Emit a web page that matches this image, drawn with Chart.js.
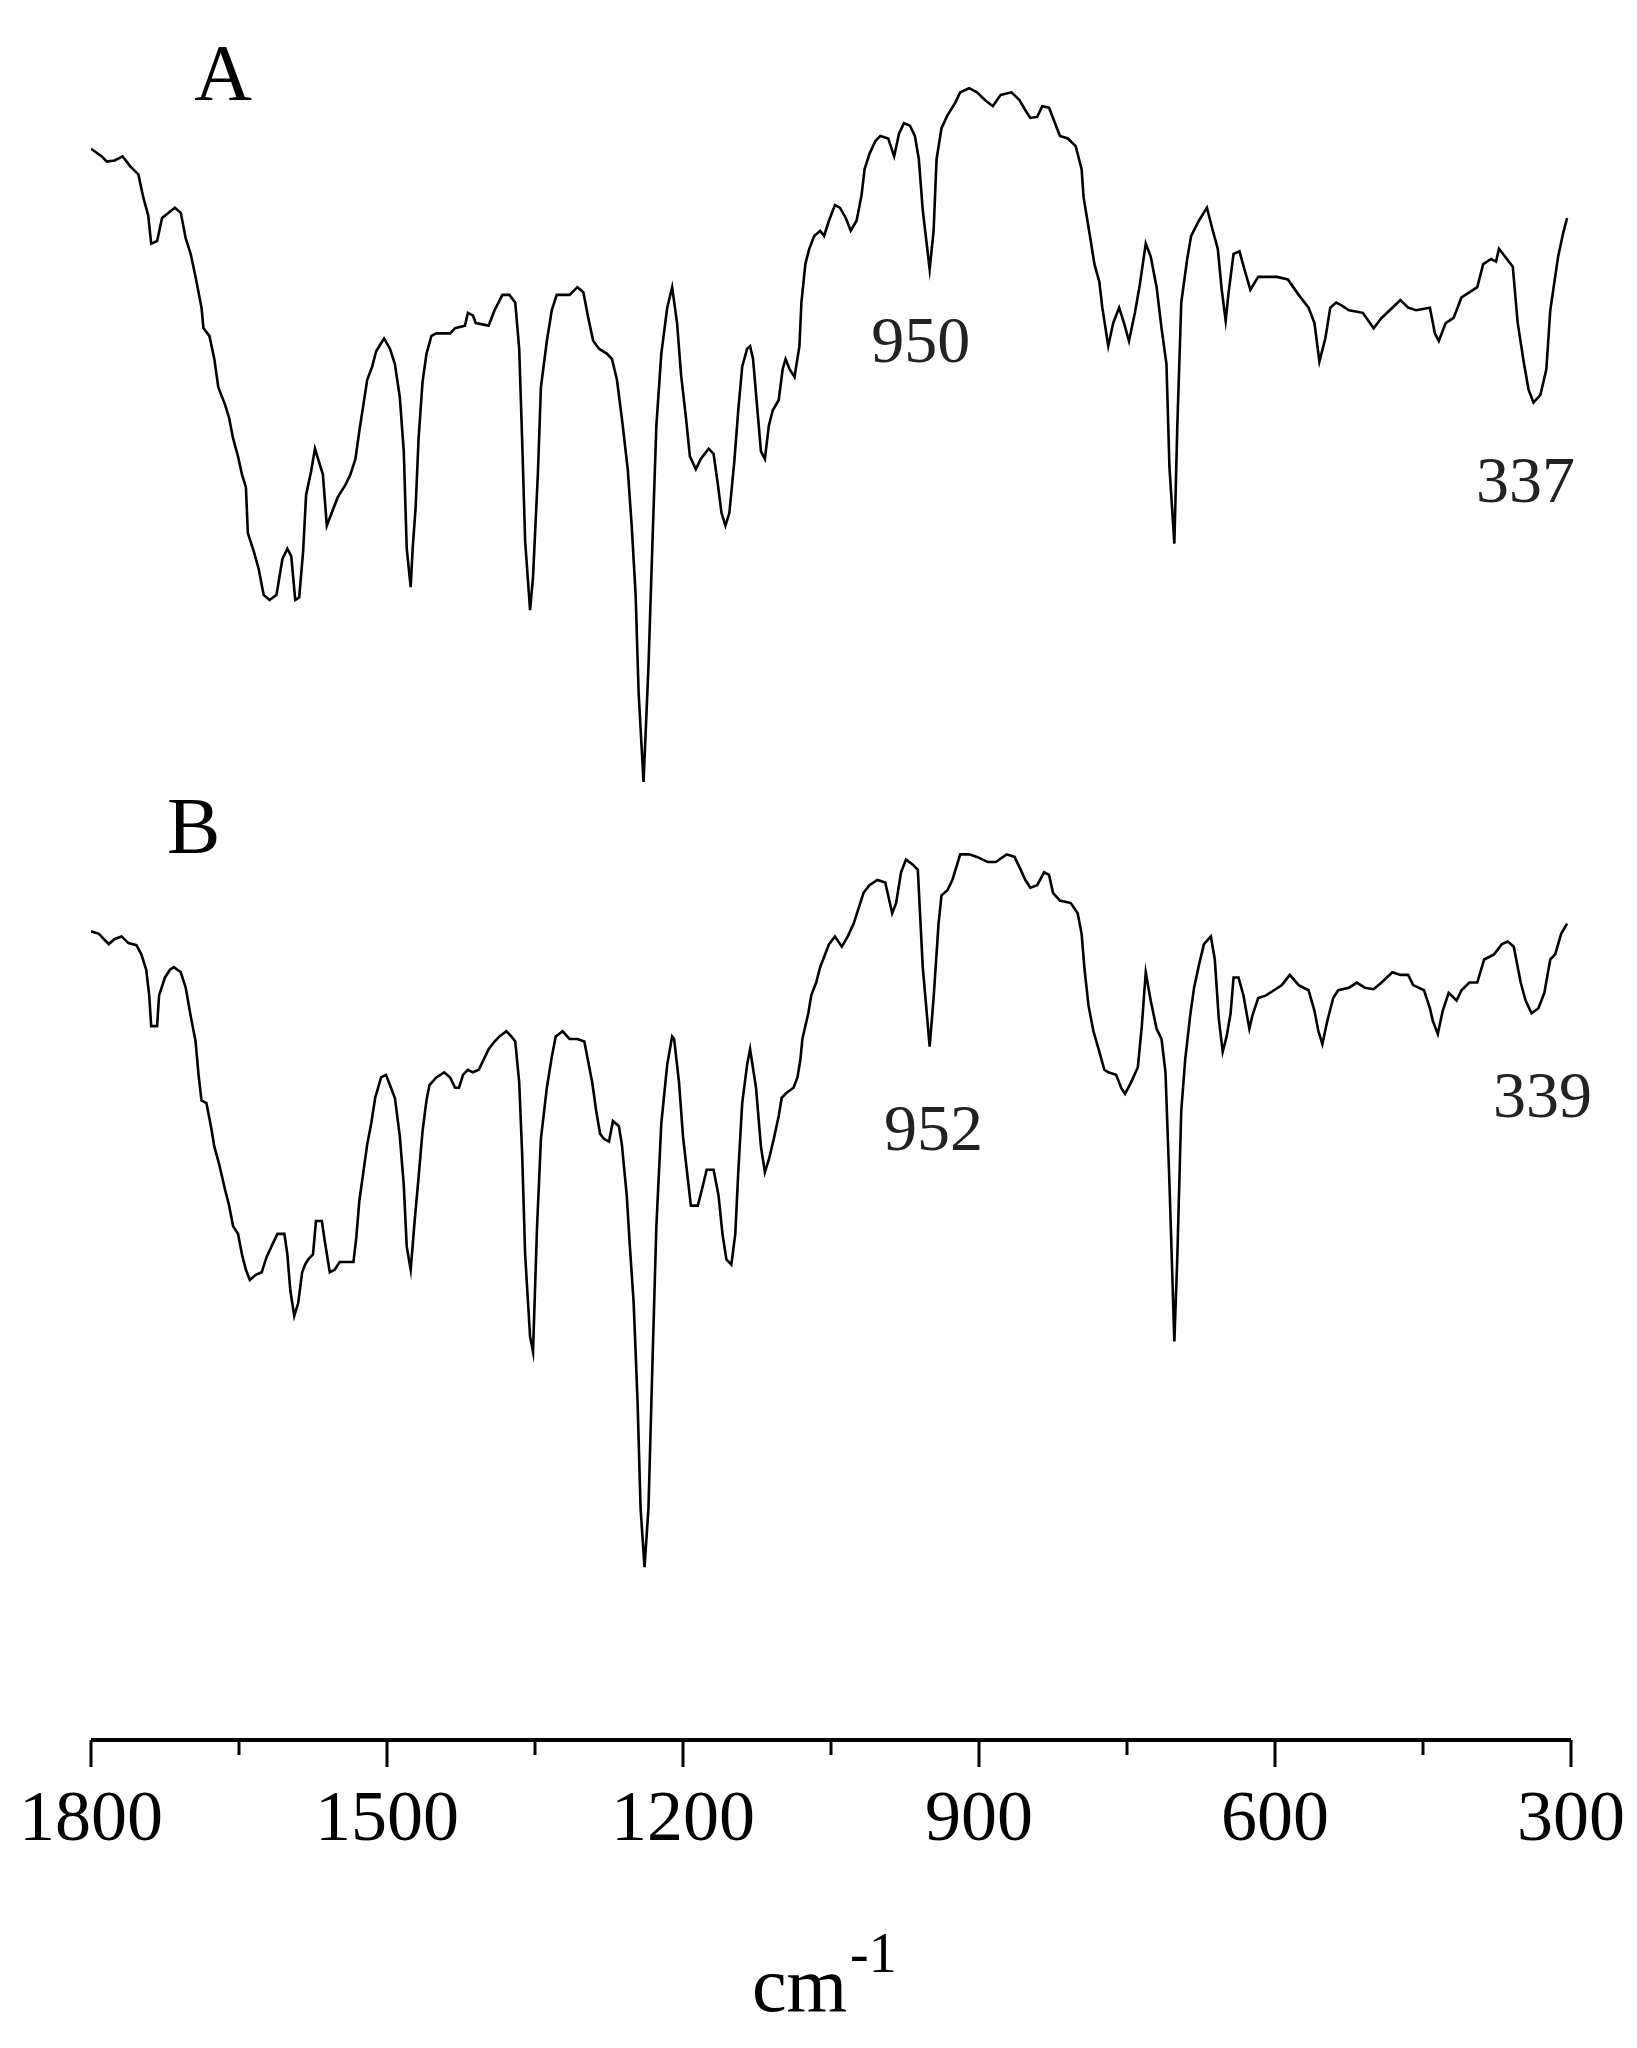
<!DOCTYPE html>
<html>
<head>
<meta charset="utf-8">
<script src="https://cdn.jsdelivr.net/npm/chart.js@4/dist/chart.umd.min.js"></script>
<style>
  html, body { margin: 0; padding: 0; background: #fff; }
  #wrap { width: 1637px; height: 2048px; }
</style>
</head>
<body>
<div id="wrap"><canvas id="spectra"></canvas></div>
<script>
// Spectrum A: wavenumber (cm-1) and transmittance (arbitrary units)
const aWavenumber = [1800,1789,1784,1776,1768,1760,1752,1747,1742,1739,1733,1728,1715,1709,1704,1699,1694,1688,1686,1680,1675,1671,1664,1660,1656,1651,1647,1643,1641,1635,1630,1625,1619,1612,1606,1601,1597,1593,1589,1585,1582,1577,1573,1569,1565,1561,1556,1550,1542,1537,1532,1528,1524,1520,1515,1511,1503,1497,1492,1487,1483,1480,1476,1474,1471,1468,1464,1460,1455,1450,1436,1431,1421,1418,1413,1410,1397,1391,1383,1376,1370,1366,1363,1360,1355,1352,1347,1344,1338,1333,1328,1315,1307,1301,1296,1291,1285,1277,1272,1267,1262,1256,1252,1248,1245,1240,1235,1231,1227,1222,1216,1211,1206,1202,1197,1193,1187,1182,1174,1169,1165,1161,1157,1153,1148,1144,1140,1135,1132,1129,1125,1121,1117,1113,1109,1103,1099,1096,1092,1087,1082,1080,1076,1072,1067,1061,
  1057,1052,1046,1041,1035,1030,1024,1019,1016,1011,1005,1000,992,986,981,976,970,965,961,957,950,946,943,938,932,924,919,910,902,894,886,878,867,859,853,848,841,836,829,824,818,810,802,796,794,788,783,778,775,769,764,758,753,748,742,737,731,726,720,715,710,707,702,699,695,689,685,677,669,663,658,654,650,647,642,636,631,625,617,598,587,576,566,560,555,549,544,538,533,525,511,500,492,481,473,465,457,443,438,434,427,419,411,403,395,389,381,376,373,365,359,354,348,343,338,331,325,321,313,308,304];
const aIntensity = [131,129.5,128.5,128.7,129.5,127.5,126,121.5,118,112.5,113,117.5,119.5,118.5,113.5,110.5,106,100,96,94.5,90,84.5,81,78.5,74.5,71,67.5,65,56,52.5,49,44,43,44,51,53,51.5,43,43.5,52.5,63.5,68,72.5,70,67.5,57.5,60,63,65.5,67.5,70.5,76,81,86,88.5,91.5,94,92,89,82.5,72,53,45.5,53,61,74.5,85.5,91,94.5,95,95,96,96.5,99,98.5,97,96.5,99.5,102.5,102.5,101,92,74,54.5,41,47.5,68,84.5,93.5,99.5,102.5,102.5,104,103,98,93.5,92,91,90,86,78.5,68.5,57.5,44,25,7.5,30,54,77,91,100,104,97,87,78.5,71,68.5,70.5,72.5,71.5,66,60,57.5,60,70,80,88.5,92,92.5,90,81,72,70.5,77,80,82,88,90,88,86.5,92.5,101,108.5,111.5,114,115,
  114,117,120,119.5,117.5,115,117,122,127,130,132.5,133.5,133,129.5,134,136,135.5,133.5,129,119,107.5,115,129,135,137.5,140,142,142.8,142,140.5,139.3,141.5,142,140.5,138.5,137,137.2,139.3,139,136.5,133.5,133,131.5,127,121.5,114.5,108.5,105,100,92.5,97,100,97,93.5,99,104.5,112.5,110,104,96,89,69,54,77,101,109.5,114,117,119.5,115,111.5,103.5,97.5,103,110.5,111,107.5,103.5,106,106,105.5,102.5,100,97,89.5,94,100,101,100.5,99.5,99,96,98,100,101.5,100,99.5,100,95,93.5,97,98,102,103,104,108.5,109.5,109,111.5,109.5,108,97,89.5,84,81.5,83,88,99.5,110,114.5,117.5];

// Spectrum B: wavenumber (cm-1) and transmittance (arbitrary units, own baseline)
const bWavenumber = [1800,1792,1782,1776,1769,1762,1754,1749,1744,1741,1739,1733,1731,1725,1720,1716,1709,1704,1699,1694,1691,1688,1683,1678,1675,1670,1664,1660,1656,1651,1647,1643,1639,1633,1627,1622,1616,1611,1604,1601,1598,1594,1590,1586,1583,1580,1575,1572,1566,1563,1558,1553,1548,1534,1531,1528,1524,1520,1516,1512,1506,1501,1496,1492,1487,1483,1480,1476,1472,1468,1464,1460,1457,1450,1442,1436,1431,1427,1423,1418,1413,1407,1402,1397,1391,1386,1379,1374,1370,1366,1363,1360,1355,1352,1348,1344,1338,1333,1329,1322,1315,1307,1300,1296,1292,1288,1284,1280,1275,1271,1265,1262,1257,1254,1250,1246,1243,1239,1235,1231,1227,1222,1216,1211,1209,1204,1200,1195,1192,1185,1181,1176,1169,1164,1160,1156,1151,1147,1144,1140,1135,1132,1126,1121,1117,1113,1108,1103,1100,1095,1088,1084,1081,1079,1073,1070,1065,1061,
  1052,1046,1039,1033,1027,1022,1017,1011,1003,995,988,984,979,974,967,962,957,950,946,941,938,932,927,919,910,902,891,883,872,864,859,853,848,841,834,829,825,818,807,800,796,793,789,784,778,773,769,761,756,752,746,739,735,731,726,720,715,711,707,702,699,695,691,686,682,677,672,665,661,657,653,649,645,642,637,632,626,623,617,609,601,593,585,576,566,560,556,552,547,541,536,525,517,509,500,492,481,473,465,460,449,443,440,435,430,424,416,411,403,395,388,378,370,364,358,351,346,340,333,327,321,316,310,304];
const bIntensity = [130.5,130,128,129,129.5,128.2,127.8,126,123,118,112,112,118,121.5,123,123.5,122.5,119.5,114,109,102.5,97.5,97,92,88.5,85,80,77,73,71.5,67.5,64.5,62.5,63.5,64,67,69.5,71.5,71.5,67.5,60.5,55.5,58,64,65.5,66.5,67.5,74,74,70,64,64.5,66,66,71,78,83.5,89,93,98,102,102.5,100,98,90.5,81,69,64.5,74,82.5,91.5,97.5,100.5,102,103,102,100,100,102.5,103.5,103,103.5,105.5,107.5,109,110,111,110,109,101,87,67.5,51.5,48.5,72.5,90,100,106,110,111,109.5,109.5,109,105,101,95.5,91,90,89.5,93.5,92.5,89,79,69.5,58,38.5,18,6.5,18,46,73,93,104.5,110,109.5,101,90.5,82,77,77,80,84,84,79,71.5,66.5,65.5,71.5,83.5,97,104.5,107.5,100,88.5,83.5,86,90,94.5,98,99,100,102,105.5,109.5,114.5,118,120.5,123.5,
  128,129.5,127.5,129.5,132,135,138,139.5,140.5,140,134,136,142,144.5,143.5,142.5,123.5,108,117.5,132,137.5,138.5,140.5,145.5,145.5,145,144,144,145.5,145,143,140.5,139,139.5,142,141.5,138,136.5,136,134,130,123,116,111,107,103.5,103,102.5,100,98.8,101,104,112,122.5,117,111.5,109.5,103,81.5,50.5,67,95.5,105.5,114,119.5,124,128,129.5,125,113.5,107,110,114.5,121.5,121.5,118,111.5,114,117.5,118,119,120,122,120,119,115,111,108.5,113,117.5,119,119.5,120.5,119.5,119.2,120.5,122.5,122,122,120,119,115.5,113,110.5,115,118.5,117,119,120.5,120.5,125,126,128,128.5,127.5,120.5,117,114.5,115.5,118.5,125,126,130,132];
const bOffset = 152.1;

// Axis ticks
const xTicks = [1800, 1500, 1200, 900, 600, 300];
const xMinorTicks = [1650, 1350, 1050, 750, 450];

// Peak annotations
const noteText = ['A', 'B', '950', '337', '952', '339'];
const noteX = [1666, 1696, 959, 346, 946, 329];
const noteY = [144.6, -2.2, 92.7, 65.4, -60.9, -54.5];

const toPoints = (xs, ys, shift) => xs.map((x, i) => ({ x: x, y: ys[i] - shift }));

const serif = '"Liberation Serif", "DejaVu Serif", serif';

const axisPainter = {
  id: 'axisPainter',
  afterDraw(chart) {
    const c = chart.ctx;
    const xs = chart.scales.x, ys = chart.scales.y;
    const base = chart.chartArea.bottom;
    c.save();
    c.strokeStyle = '#000';
    c.fillStyle = '#000';
    c.lineWidth = 4;
    c.beginPath();
    c.moveTo(xs.getPixelForValue(1800), base);
    c.lineTo(xs.getPixelForValue(300), base);
    c.stroke();
    c.lineWidth = 3;
    xTicks.forEach(v => {
      const p = xs.getPixelForValue(v);
      c.beginPath(); c.moveTo(p, base); c.lineTo(p, base + 27); c.stroke();
    });
    xMinorTicks.forEach(v => {
      const p = xs.getPixelForValue(v);
      c.beginPath(); c.moveTo(p, base); c.lineTo(p, base + 15); c.stroke();
    });
    c.font = '72px ' + serif;
    c.textAlign = 'center';
    c.textBaseline = 'alphabetic';
    xTicks.forEach(v => c.fillText(String(v), xs.getPixelForValue(v), base + 100));

    // axis title cm-1
    c.font = '78px ' + serif;
    c.textAlign = 'left';
    c.fillText('cm', 752, 2011);
    c.font = '56px ' + serif;
    c.fillText('-1', 850, 1972);

    // annotations
    c.textAlign = 'center';
    c.textBaseline = 'middle';
    noteText.forEach((t, i) => {
      c.font = (i < 2 ? '80px ' : '66px ') + serif;
      c.fillStyle = i < 2 ? '#000' : '#222';
      c.fillText(t, xs.getPixelForValue(noteX[i]), ys.getPixelForValue(noteY[i]));
    });
    c.restore();
  }
};

new Chart(document.getElementById('spectra'), {
  type: 'line',
  data: {
    datasets: [
      { label: 'A', data: toPoints(aWavenumber, aIntensity, 0) },
      { label: 'B', data: toPoints(bWavenumber, bIntensity, bOffset) }
    ]
  },
  options: {
    responsive: true,
    maintainAspectRatio: false,
    animation: false,
    layout: { padding: { left: 91, right: 66, top: 0, bottom: 0 } },
    elements: {
      line: { borderColor: '#000', borderWidth: 2.6, tension: 0 },
      point: { radius: 0 }
    },
    plugins: { legend: { display: false }, tooltip: { enabled: false } },
    scales: {
      x: {
        type: 'linear',
        reverse: true,
        min: 300,
        max: 1800,
        grid: { display: false },
        border: { display: false },
        ticks: { display: false },
        afterFit(scale) { scale.height = 308; }
      },
      y: {
        display: false,
        min: -179.3,
        max: 160
      }
    }
  },
  plugins: [axisPainter]
});
</script>
</body>
</html>
